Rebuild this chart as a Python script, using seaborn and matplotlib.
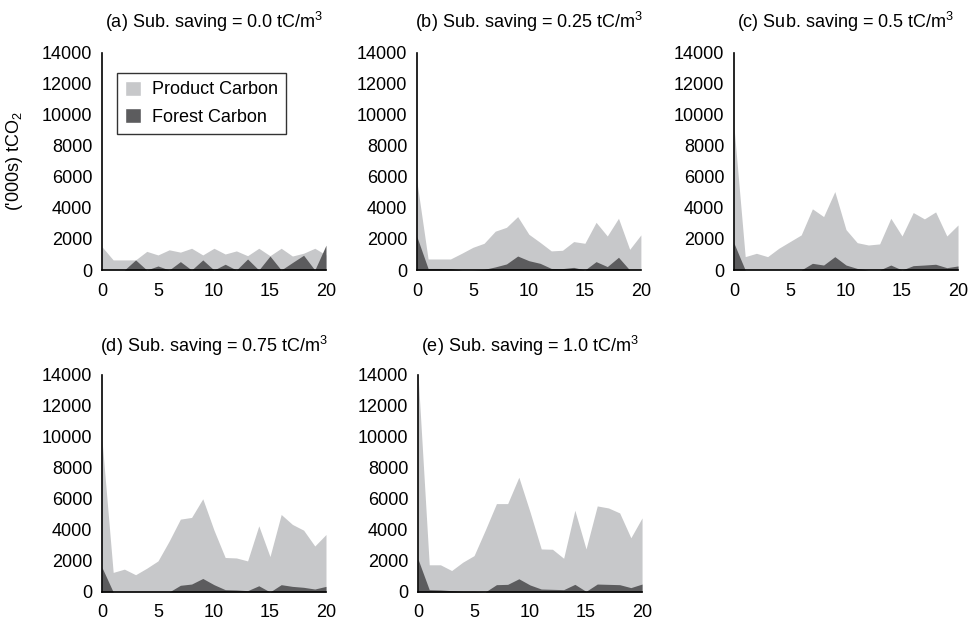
import numpy as np
import matplotlib
matplotlib.use("Agg")
import matplotlib.pyplot as plt
import seaborn as sns
from matplotlib.patches import Patch

years = list(range(21))

# panel (a) Sub. saving = 0.0
product_a = [1500, 650, 650, 650, 1200, 970, 1300, 1150, 1400, 970, 1400,
             1030, 1230, 920, 1400, 920, 1400, 900, 1080, 1400, 970]
forest_a = [0, 0, 0, 650, 0, 260, 0, 540, 0, 650, 0,
            370, 0, 710, 0, 900, 0, 480, 950, 0, 1600]

# panel (b) Sub. saving = 0.25
product_b = [5700, 710, 710, 710, 1075, 1460, 1720, 2500, 2750, 3440, 2300,
             1780, 1230, 1270, 1830, 1720, 3070, 2190, 3330, 1330, 2260]
forest_b = [2150, 100, 100, 90, 0, 0, 40, 200, 390, 900, 600,
            430, 100, 90, 170, 0, 540, 220, 820, 0, 0]

# panel (c) Sub. saving = 0.5
product_c = [9200, 860, 1075, 860, 1400, 1830, 2260, 3940, 3440, 5050, 2600,
             1760, 1610, 1680, 3330, 2190, 3700, 3290, 3740, 2190, 2900]
forest_c = [1720, 0, 0, 0, 0, 0, 0, 430, 320, 860, 320,
            100, 0, 0, 320, 0, 280, 320, 370, 150, 260]

# panel (d) Sub. saving = 0.75
product_d = [9800, 1260, 1470, 1110, 1530, 2000, 3280, 4690, 4800, 6000, 3980,
             2220, 2190, 2000, 4260, 2280, 4990, 4350, 3980, 2960, 3700]
forest_d = [1580, 0, 0, 0, 0, 0, 0, 430, 510, 870, 470,
            150, 130, 85, 400, 0, 470, 360, 300, 190, 360]

# panel (e) Sub. saving = 1.0
product_e = [14000, 1750, 1750, 1380, 1920, 2340, 3980, 5690, 5690, 7390, 5150,
             2770, 2750, 2170, 5260, 2770, 5540, 5410, 5090, 3490, 4770]
forest_e = [2110, 150, 130, 85, 40, 40, 0, 470, 490, 850, 450,
            190, 170, 150, 490, 40, 510, 490, 470, 280, 510]

titles = [
    "(a) Sub. saving = 0.0 tC/m$^3$",
    "(b) Sub. saving = 0.25 tC/m$^3$",
    "(c) Sub. saving = 0.5 tC/m$^3$",
    "(d) Sub. saving = 0.75 tC/m$^3$",
    "(e) Sub. saving = 1.0 tC/m$^3$",
]
products = [product_a, product_b, product_c, product_d, product_e]
forests = [forest_a, forest_b, forest_c, forest_d, forest_e]

light = "#c7c8ca"
dark = "#5c5c5e"

sns.set_style("white")
plt.rcParams["font.family"] = ["Liberation Sans", "DejaVu Sans"]
plt.rcParams["mathtext.fontset"] = "custom"
plt.rcParams["mathtext.rm"] = "Liberation Sans"
plt.rcParams["text.color"] = "black"
plt.rcParams["axes.labelcolor"] = "black"
plt.rcParams["xtick.color"] = "black"
plt.rcParams["ytick.color"] = "black"

fig = plt.figure(figsize=(9.74, 6.23), dpi=100)

# axes boxes (left, bottom, width, height) in figure fraction
lefts = [0.1047, 0.428, 0.7536, 0.1047, 0.4292]
bottoms = [0.5666, 0.5666, 0.5666, 0.0498, 0.0498]
w, h = 0.23, 0.3490
fs = 13

for i in range(5):
    ax = fig.add_axes([lefts[i], bottoms[i], w, h])
    ax.fill_between(years, products[i], 0, color=light, linewidth=0)
    ax.fill_between(years, forests[i], 0, color=dark, linewidth=0)
    ax.set_xlim(0, 20)
    ax.set_ylim(0, 14000)
    ax.set_xticks([0, 5, 10, 15, 20])
    ax.set_yticks(np.arange(0, 14001, 2000))
    ax.tick_params(axis="x", length=0, pad=9, labelsize=fs)
    ax.tick_params(axis="y", length=0, pad=7, labelsize=fs)
    ax.set_title(titles[i], fontsize=fs, pad=18 if i < 3 else 16, color="black")
    sns.despine(ax=ax)
    for sp in ["left", "bottom"]:
        ax.spines[sp].set_color("black")
        ax.spines[sp].set_linewidth(1.2)
    if i == 0:
        ax.set_ylabel("('000s) tCO$_2$", fontsize=fs, labelpad=12)
        handles = [Patch(facecolor=light, label="Product Carbon"),
                   Patch(facecolor=dark, label="Forest Carbon")]
        leg = ax.legend(handles=handles, loc="upper left",
                        bbox_to_anchor=(0.067, 0.908), borderaxespad=0,
                        fontsize=fs, frameon=True, fancybox=False,
                        edgecolor="black", handlelength=0.9,
                        handleheight=0.9, handletextpad=0.6,
                        borderpad=0.45, labelspacing=0.55)
        leg.get_frame().set_linewidth(1.0)

fig.savefig("out.png", dpi=100)
